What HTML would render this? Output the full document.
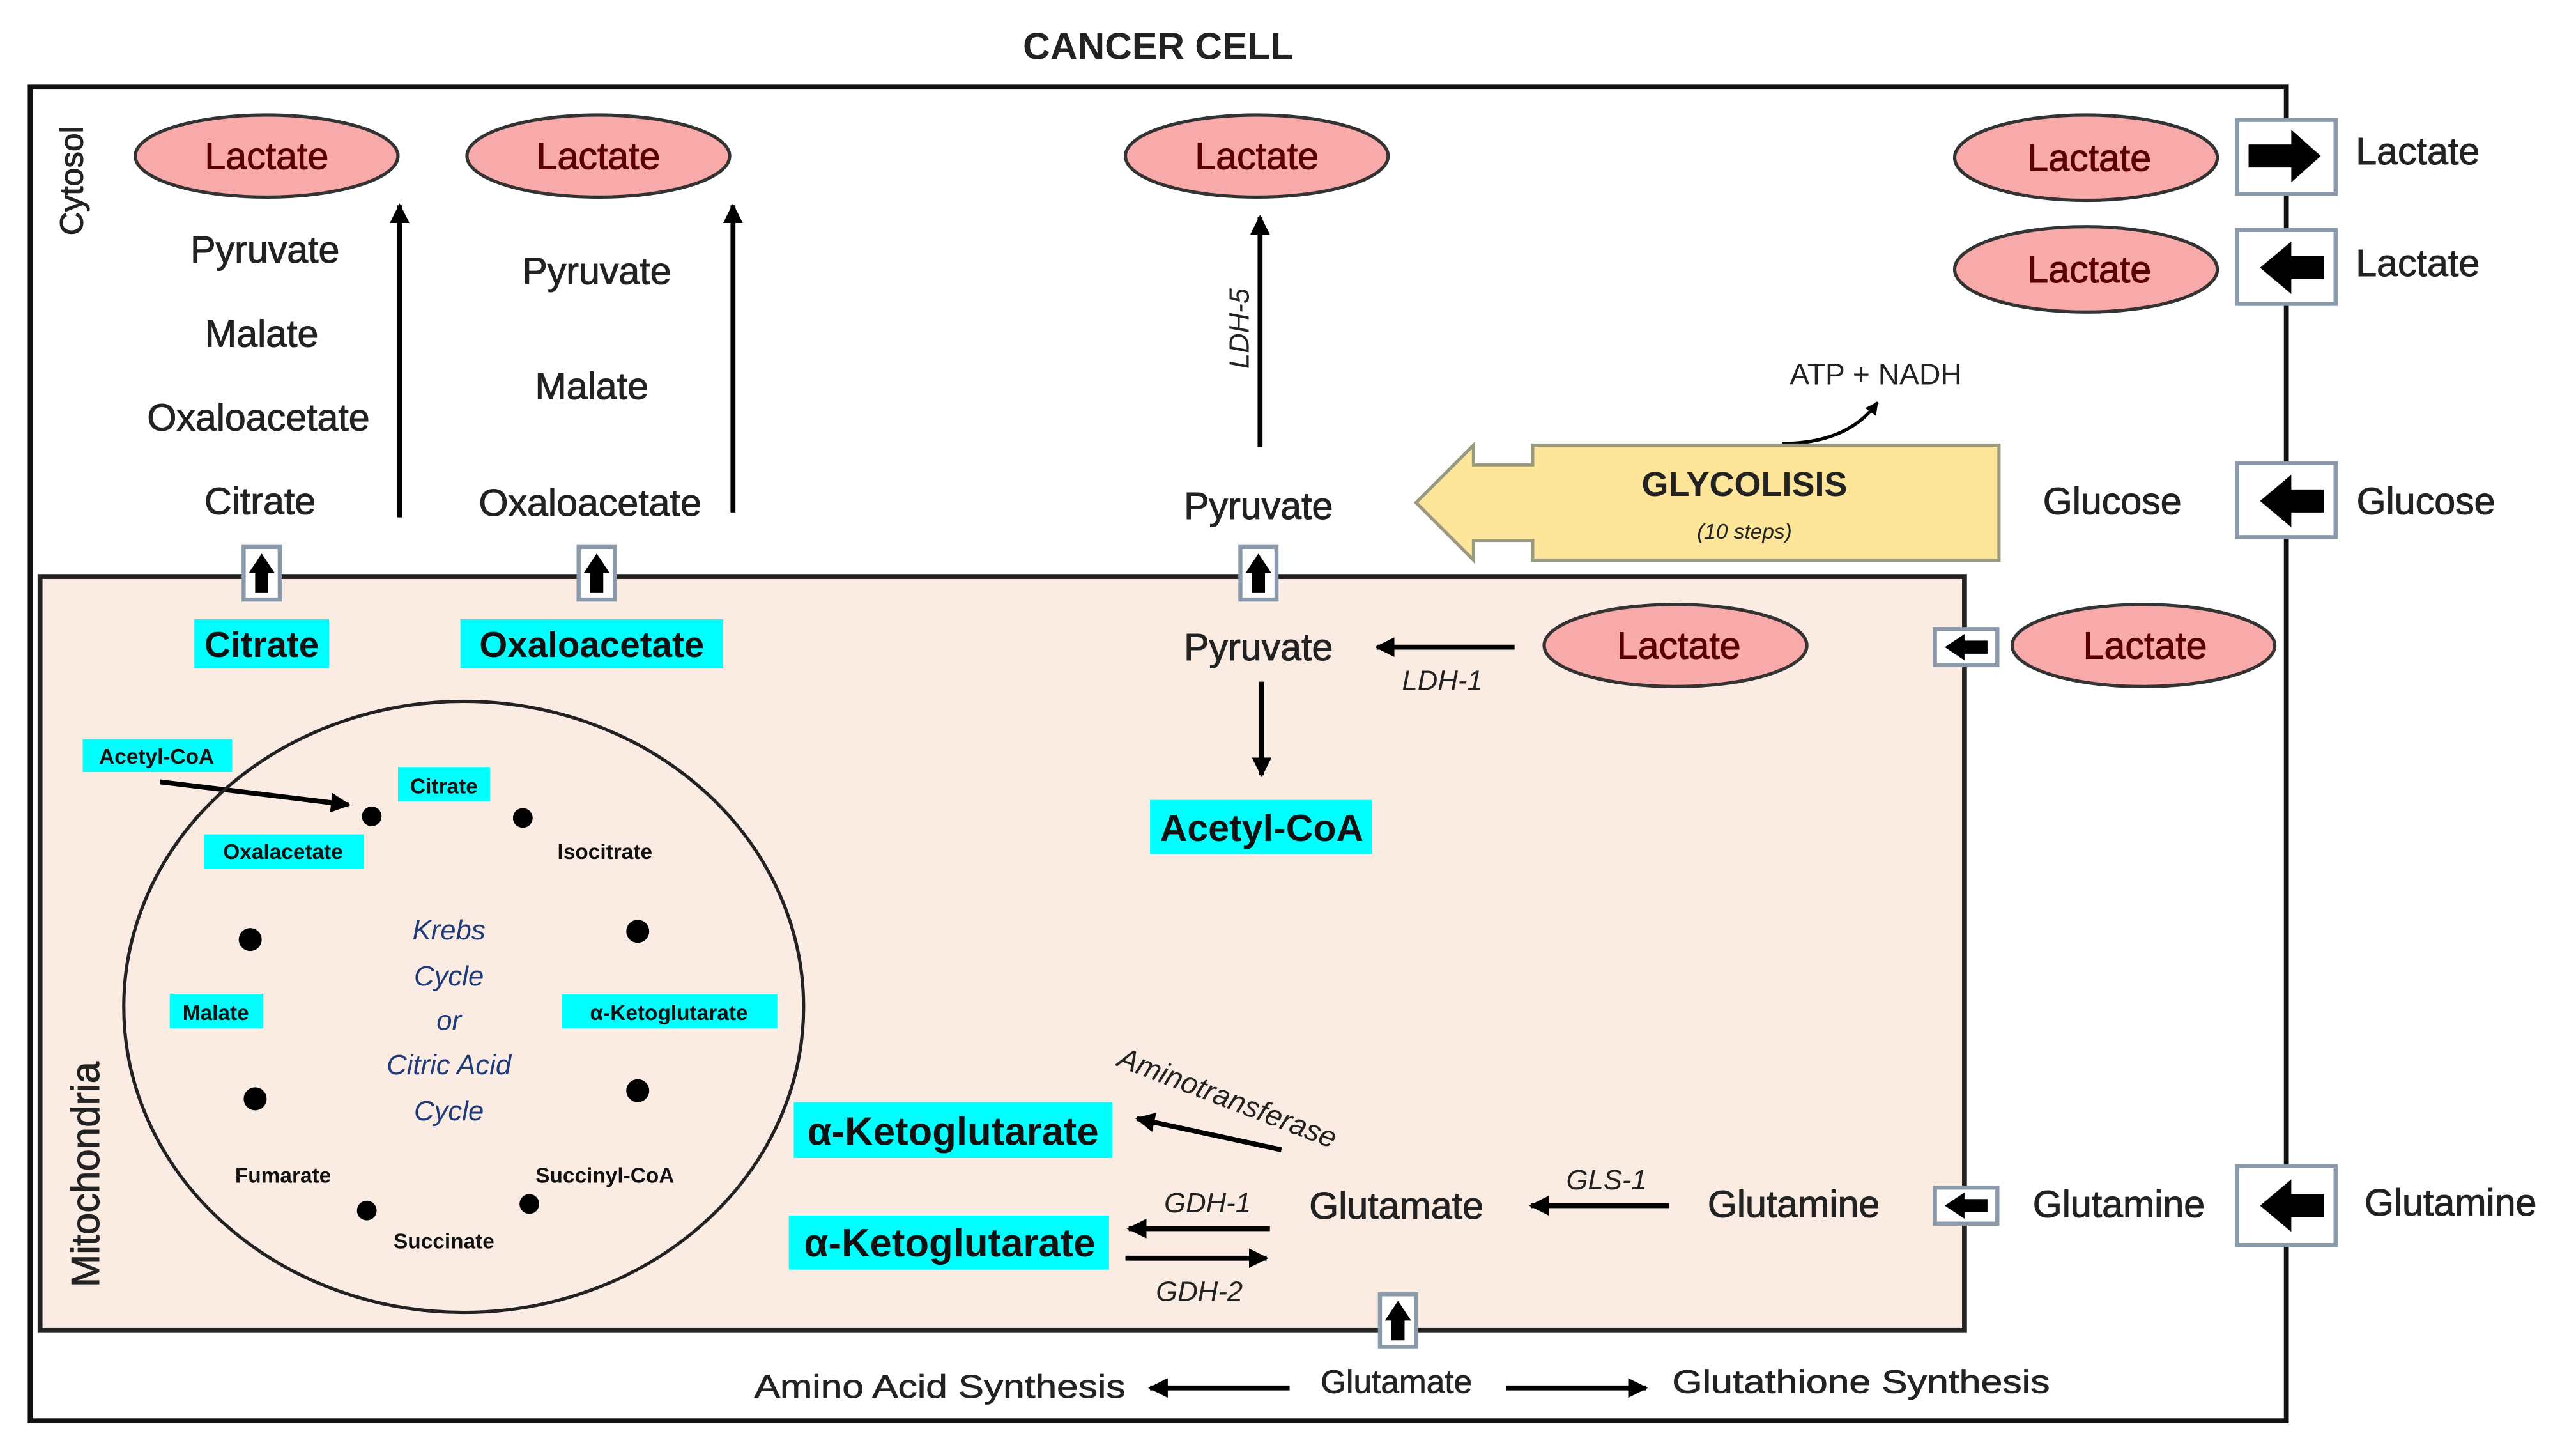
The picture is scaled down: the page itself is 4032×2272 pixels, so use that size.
<!DOCTYPE html>
<html><head><meta charset="utf-8"><style>html,body{margin:0;padding:0;background:#fff}svg{display:block}text{font-family:"Liberation Sans",sans-serif}</style></head><body>
<svg width="4032" height="2272" viewBox="0 0 1568 884" xmlns="http://www.w3.org/2000/svg">
<defs>
<marker id="a" viewBox="0 0 10 10" refX="9" refY="5" markerWidth="4" markerHeight="4" orient="auto"><path d="M0,0 L10,5 L0,10 z" fill="#000"/></marker>
</defs>
<rect x="0" y="0" width="1568" height="884" fill="#fff"/>
<text x="705" y="36" font-size="23" font-weight="bold" text-anchor="middle" fill="#222">CANCER CELL</text>
<rect x="18" y="53" width="1374" height="812" fill="#fff" stroke="#111" stroke-width="3"/>
<rect x="24" y="351" width="1172" height="459" fill="#fbece3" stroke="#222" stroke-width="3"/>
<text transform="translate(50,110) rotate(-90)" font-size="20" text-anchor="middle" fill="#222" stroke="#222" stroke-width="0.4">Cytosol</text>
<text transform="translate(60,715) rotate(-90)" font-size="24" text-anchor="middle" fill="#222" stroke="#222" stroke-width="0.4">Mitochondria</text>

<g fill="#f8a9a9" stroke="#333" stroke-width="2">
<ellipse cx="162" cy="95" rx="80" ry="25"/><ellipse cx="364" cy="95" rx="80" ry="25"/><ellipse cx="765" cy="95" rx="80" ry="25"/>
<ellipse cx="1270" cy="96" rx="80" ry="26"/><ellipse cx="1270" cy="164" rx="80" ry="26"/>
<ellipse cx="1020" cy="393" rx="80" ry="25"/><ellipse cx="1305" cy="393" rx="80" ry="25"/>
</g>
<g font-size="23" text-anchor="middle" fill="#5a0000" stroke="#5a0000" stroke-width="0.4">
<text x="162" y="103">Lactate</text><text x="364" y="103">Lactate</text><text x="765" y="103">Lactate</text>
<text x="1272" y="104">Lactate</text><text x="1272" y="172">Lactate</text>
<text x="1022" y="401">Lactate</text><text x="1306" y="401">Lactate</text>
</g>

<g fill="#fff" stroke="#8a9aab" stroke-width="2.5">
<rect x="1362" y="73" width="60" height="45"/><rect x="1362" y="140" width="60" height="45"/>
<rect x="1362" y="282" width="60" height="45"/><rect x="1362" y="710" width="60" height="48"/>
<rect x="1178" y="383" width="38" height="22"/><rect x="1178" y="723" width="38" height="22"/>
<rect x="148" y="333" width="22" height="32"/><rect x="352" y="333" width="22" height="32"/>
<rect x="755" y="333" width="22" height="32"/><rect x="840" y="788" width="22" height="32"/>
</g>
<g fill="#000">
<polygon points="1369,88 1395,88 1395,79 1413,95 1395,111 1395,102 1369,102"/>
<polygon points="1415,156 1395,156 1395,147 1376,163 1395,179 1395,170 1415,170"/>
<polygon points="1415,298 1395,298 1395,289 1376,305 1395,321 1395,312 1415,312"/>
<polygon points="1415,727 1395,727 1395,718 1376,734 1395,750 1395,741 1415,741"/>
<polygon points="1210,390 1196,390 1196,386 1184,394 1196,402 1196,398 1210,398"/>
<polygon points="1210,730 1196,730 1196,726 1184,734 1196,742 1196,738 1210,738"/>
<polygon points="155,361 155,349 151,349 159,337 167,349 163,349 163,361"/>
<polygon points="359,361 359,349 355,349 363,337 371,349 367,349 367,361"/>
<polygon points="762,361 762,349 758,349 766,337 774,349 770,349 770,361"/>
<polygon points="847,816 847,804 843,804 851,792 859,804 855,804 855,816"/>
</g>

<g font-size="23" text-anchor="middle" fill="#222" stroke="#222" stroke-width="0.4">
<text x="161" y="160">Pyruvate</text><text x="159" y="211">Malate</text><text x="157" y="262">Oxaloacetate</text><text x="158" y="313">Citrate</text>
<text x="363" y="173">Pyruvate</text><text x="360" y="243">Malate</text><text x="359" y="314">Oxaloacetate</text>
<text x="766" y="316">Pyruvate</text>
<text x="1286" y="313">Glucose</text><text x="1477" y="313">Glucose</text>
<text x="1472" y="100">Lactate</text><text x="1472" y="168">Lactate</text>
<text x="766" y="402">Pyruvate</text>
<text x="850" y="742">Glutamate</text><text x="1092" y="741">Glutamine</text>
<text x="1290" y="741">Glutamine</text><text x="1492" y="740">Glutamine</text>
</g>
<g stroke="#000" stroke-width="3" fill="none" marker-end="url(#a)">
<line x1="243" y1="315" x2="243" y2="125"/><line x1="446" y1="312" x2="446" y2="125"/>
<line x1="767" y1="272" x2="767" y2="132"/>
<line x1="922" y1="394" x2="838" y2="394"/>
<line x1="768" y1="415" x2="768" y2="472"/>
<line x1="1016" y1="734" x2="932" y2="734"/>
<line x1="773" y1="748" x2="687" y2="748"/><line x1="685" y1="766" x2="771" y2="766"/>
<line x1="780" y1="700" x2="692" y2="681"/>
<line x1="785" y1="845" x2="700" y2="845"/><line x1="917" y1="845" x2="1002" y2="845"/>
<line x1="97" y1="476" x2="212" y2="490"/>
<path d="M1085,270 Q1125,270 1143,245" stroke-width="2"/>
</g>
<text transform="translate(760,200) rotate(-90)" font-size="17" font-style="italic" text-anchor="middle" fill="#222">LDH-5</text>
<text x="878" y="420" font-size="17" font-style="italic" text-anchor="middle" fill="#222">LDH-1</text>
<text x="978" y="724" font-size="17" font-style="italic" text-anchor="middle" fill="#222">GLS-1</text>
<text x="735" y="738" font-size="17" font-style="italic" text-anchor="middle" fill="#222">GDH-1</text>
<text x="730" y="792" font-size="17" font-style="italic" text-anchor="middle" fill="#222">GDH-2</text>
<text transform="translate(745,674) rotate(21)" font-size="18" font-style="italic" text-anchor="middle" fill="#222">Aminotransferase</text>
<text x="1142" y="234" font-size="18" text-anchor="middle" fill="#222">ATP + NADH</text>

<polygon points="862,306 897,271 897,283 933,283 933,271 1217,271 1217,341 933,341 933,329 897,329 897,341" fill="#fde59a" stroke="#9a9a80" stroke-width="2"/>
<text x="1062" y="302" font-size="21" font-weight="bold" text-anchor="middle" fill="#222">GLYCOLISIS</text>
<text x="1062" y="328" font-size="13" font-style="italic" text-anchor="middle" fill="#222">(10 steps)</text>

<g fill="#00ffff">
<rect x="118" y="377" width="82" height="30"/><rect x="280" y="377" width="160" height="30"/>
<rect x="700" y="487" width="135" height="33"/>
<rect x="483" y="671" width="194" height="34"/><rect x="480" y="740" width="195" height="33"/>
<rect x="50" y="450" width="91" height="20"/><rect x="242" y="467" width="56" height="21"/>
<rect x="124" y="508" width="97" height="21"/><rect x="103" y="605" width="57" height="21"/>
<rect x="342" y="605" width="131" height="21"/>
</g>
<g font-size="22" text-anchor="middle" fill="#111" font-weight="bold">
<text x="159" y="400">Citrate</text><text x="360" y="400">Oxaloacetate</text>
<text x="768" y="512" font-size="23">Acetyl-CoA</text>
<text x="580" y="697" font-size="24">α-Ketoglutarate</text><text x="578" y="765" font-size="24">α-Ketoglutarate</text>
</g>
<ellipse cx="282" cy="613" rx="207" ry="186" fill="none" stroke="#222" stroke-width="2"/>
<g font-size="13" text-anchor="middle" fill="#111" font-weight="bold">
<text x="95" y="465">Acetyl-CoA</text><text x="270" y="483">Citrate</text><text x="368" y="523">Isocitrate</text>
<text x="172" y="523">Oxalacetate</text><text x="131" y="621">Malate</text><text x="407" y="621">α-Ketoglutarate</text>
<text x="172" y="720">Fumarate</text><text x="368" y="720">Succinyl-CoA</text><text x="270" y="760">Succinate</text>
</g>
<g font-size="17" font-style="italic" text-anchor="middle" fill="#1f3a7a">
<text x="273" y="572">Krebs</text><text x="273" y="600">Cycle</text><text x="273" y="627">or</text><text x="273" y="654">Citric Acid</text><text x="273" y="682">Cycle</text>
</g>
<g fill="#000">
<circle cx="226" cy="497" r="6"/><circle cx="318" cy="498" r="6"/><circle cx="388" cy="567" r="7"/><circle cx="152" cy="572" r="7"/>
<circle cx="388" cy="664" r="7"/><circle cx="155" cy="669" r="7"/><circle cx="223" cy="737" r="6"/><circle cx="322" cy="733" r="6"/>
</g>
<g font-size="20" text-anchor="middle" fill="#222" stroke="#222" stroke-width="0.3">
<text x="572" y="851" textLength="226" lengthAdjust="spacingAndGlyphs">Amino Acid Synthesis</text><text x="850" y="848">Glutamate</text><text x="1133" y="848" textLength="230" lengthAdjust="spacingAndGlyphs">Glutathione Synthesis</text>
</g>
</svg>
</body></html>
